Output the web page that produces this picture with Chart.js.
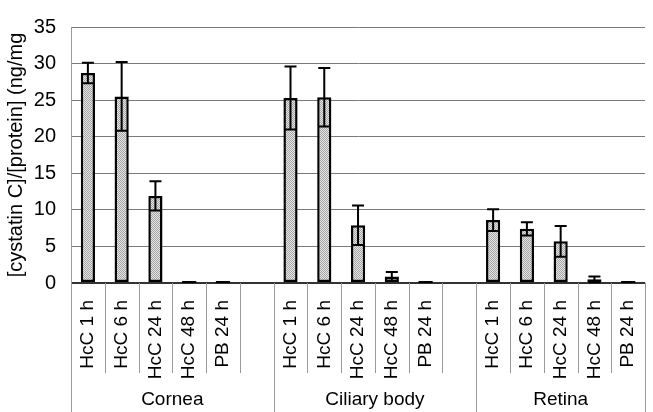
<!DOCTYPE html>
<html>
<head>
<meta charset="utf-8">
<script src="https://cdn.jsdelivr.net/npm/chart.js@4.4.0/dist/chart.umd.min.js"></script>
<style>
  html, body { margin: 0; padding: 0; overflow: hidden; background: #fff; }
  #wrap { width: 660px; height: 412px; }
</style>
</head>
<body>
<div id="wrap"><canvas id="chart" width="660" height="412"></canvas></div>
<script>
const groups = ['Cornea', 'Ciliary body', 'Retina'];
const timePoints = ['HcC 1 h', 'HcC 6 h', 'HcC 24 h', 'HcC 48 h', 'PB 24 h'];
const corneaValues = [28.7, 25.5, 11.9, 0, 0];
const corneaErrors = [1.4, 4.7, 2.0, 0, 0];
const ciliaryValues = [25.3, 25.4, 7.9, 0.9, 0];
const ciliaryErrors = [4.3, 4.0, 2.7, 0.6, 0];
const retinaValues = [8.6, 7.4, 5.7, 0.5, 0];
const retinaErrors = [1.5, 0.9, 2.1, 0.4, 0];
const yTicks = [0, 5, 10, 15, 20, 25, 30, 35];

// flatten groups, with an empty slot after each group except the last
const groupValues = [corneaValues, ciliaryValues, retinaValues];
const groupErrors = [corneaErrors, ciliaryErrors, retinaErrors];
const labels = [], values = [], errors = [], groupSpans = [];
groups.forEach((g, gi) => {
  const start = labels.length;
  timePoints.forEach((t, i) => {
    labels.push(t);
    values.push(groupValues[gi][i]);
    errors.push(groupErrors[gi][i]);
  });
  if (gi < groups.length - 1) {
    labels.push('');
    values.push(null);
    errors.push(null);
  }
  groupSpans.push([start, labels.length - 1]);
});

// dithered grey fill like the original
function makePattern() {
  const c = document.createElement('canvas');
  c.width = 2; c.height = 2;
  const p = c.getContext('2d');
  p.fillStyle = '#e6e6e6'; p.fillRect(0, 0, 2, 2);
  p.fillStyle = '#a4a4a4'; p.fillRect(0, 0, 1, 1); p.fillRect(1, 1, 1, 1);
  return p.createPattern(c, 'repeat');
}

const font = 'Liberation Sans, Arial, sans-serif';

const errorBars = {
  id: 'errorBars',
  afterDatasetsDraw(chart) {
    const ctx = chart.ctx, y = chart.scales.y;
    const meta = chart.getDatasetMeta(0);
    ctx.save();
    ctx.strokeStyle = '#000';
    ctx.lineWidth = 2;
    meta.data.forEach((bar, i) => {
      const v = values[i], e = errors[i];
      if (v == null) return;
      if (v === 0) {
        // flat outline of an empty bar
        const y0 = y.getPixelForValue(0) - 1;
        ctx.beginPath();
        ctx.moveTo(bar.x - bar.width / 2, y0); ctx.lineTo(bar.x + bar.width / 2, y0);
        ctx.stroke();
        return;
      }
      if (!e) return;
      const top = y.getPixelForValue(v + e), bot = y.getPixelForValue(v - e);
      ctx.beginPath();
      ctx.moveTo(bar.x, top); ctx.lineTo(bar.x, bot);
      ctx.moveTo(bar.x - 6, top); ctx.lineTo(bar.x + 6, top);
      ctx.moveTo(bar.x - 6, bot); ctx.lineTo(bar.x + 6, bot);
      ctx.stroke();
    });
    ctx.restore();
  }
};

const groupAxis = {
  id: 'groupAxis',
  afterDraw(chart) {
    const ctx = chart.ctx, x = chart.scales.x, area = chart.chartArea;
    const slot = (area.right - area.left) / labels.length;
    const groupStarts = groupSpans.map(s => s[0]);
    ctx.save();
    ctx.strokeStyle = '#9a9a9a';
    ctx.lineWidth = 1;
    for (let i = 0; i <= labels.length; i++) {
      const px = Math.round(area.left + i * slot) + 0.5;
      const isGroup = groupStarts.includes(i) || i === labels.length;
      ctx.beginPath();
      ctx.moveTo(px, area.bottom);
      ctx.lineTo(px, isGroup ? chart.height : area.bottom + 90);
      ctx.stroke();
    }
    ctx.fillStyle = '#000';
    ctx.font = '19px ' + font;
    ctx.textAlign = 'center';
    ctx.textBaseline = 'middle';
    groups.forEach((g, gi) => {
      const [a, b] = groupSpans[gi];
      const cx = (x.getPixelForValue(a) + x.getPixelForValue(b)) / 2;
      ctx.fillText(g, cx, 400);
    });
    ctx.restore();
  }
};

new Chart(document.getElementById('chart'), {
  type: 'bar',
  data: {
    labels: labels,
    datasets: [{
      data: values,
      backgroundColor: makePattern(),
      borderColor: '#000',
      borderWidth: 2.5,
      borderSkipped: false,
      categoryPercentage: 1,
      barPercentage: 0.42
    }]
  },
  options: {
    responsive: false,
    animation: false,
    layout: { padding: { top: 15, right: 0, left: 0, bottom: 0 } },
    plugins: { legend: { display: false }, tooltip: { enabled: false } },
    scales: {
      x: {
        grid: { display: false },
        border: { display: false },
        ticks: {
          color: '#000', font: { family: font, size: 19 },
          minRotation: 90, maxRotation: 90, autoSkip: false, padding: 9
        },
        afterFit(s) { s.height = 129; }
      },
      y: {
        min: 0, max: 35,
        afterBuildTicks(s) { s.ticks = yTicks.map(v => ({ value: v })); },
        grid: {
          drawTicks: false,
          color: ctx => ctx.tick.value === 0 ? '#333' : '#7a7a7a',
          lineWidth: ctx => ctx.tick.value === 0 ? 2 : 1
        },
        border: { display: true, color: '#9a9a9a', width: 1 },
        ticks: { color: '#000', font: { family: font, size: 20 }, padding: 15 },
        title: {
          display: true,
          text: '[cystatin C]/[protein] (ng/mg',
          color: '#000',
          font: { family: font, size: 20 },
          padding: { top: 4, bottom: 0 }
        },
        afterFit(s) { s.width = 71; }
      }
    }
  },
  plugins: [errorBars, groupAxis]
});
</script>
</body>
</html>
